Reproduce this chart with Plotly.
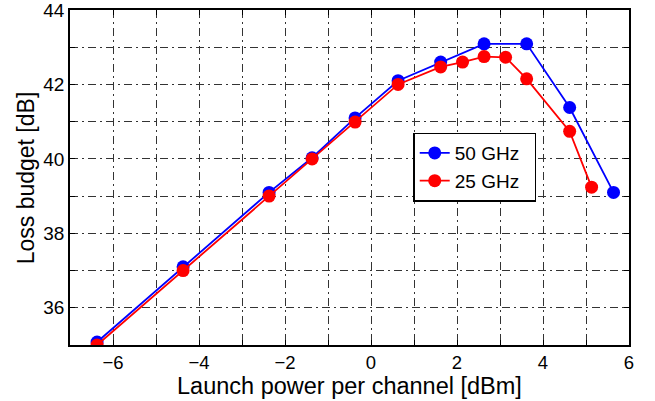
import plotly.graph_objects as go

# launch power per channel [dBm] and loss budget [dB]
x_50 = [-6.37, -4.37, -2.37, -1.37, -0.37, 0.63, 1.62, 2.63, 3.62, 4.62, 5.64]
y_50 = [35.08, 37.1, 39.1, 40.03, 41.1, 42.1, 42.6, 43.09, 43.09, 41.38, 39.1]

x_25 = [-6.37, -4.37, -2.37, -1.37, -0.37, 0.63, 1.62, 2.13, 2.63, 3.13, 3.62, 4.62, 5.13]
y_25 = [35.0, 37.0, 39.0, 40.0, 40.99, 42.0, 42.47, 42.6, 42.75, 42.73, 42.15, 40.74, 39.24]

x_ticks = list(range(-7, 7))
y_ticks = list(range(35, 45))

font = "Liberation Sans"
pad = '\u00a0\u00a0'  # a little room on the right of the legend text

fig = go.Figure()

fig.add_trace(go.Scatter(
    x=x_50, y=y_50, name='50 GHz' + pad, mode='lines+markers',
    line=dict(color='#0000ff', width=1.8),
    marker=dict(color='#0000ff', size=13)))

fig.add_trace(go.Scatter(
    x=x_25, y=y_25, name='25 GHz' + pad, mode='lines+markers',
    line=dict(color='#ff0000', width=1.8),
    marker=dict(color='#ff0000', size=13)))

grid = dict(showgrid=True, gridcolor='#333', griddash='8px,4px,2px,4px', gridwidth=1)

fig.update_layout(
    width=655, height=401,
    margin=dict(l=70, r=26, t=10, b=56),
    paper_bgcolor='white', plot_bgcolor='white',
    font=dict(family=font, size=19, color='black'),
    showlegend=True,
    legend=dict(x=0.614, y=0.634, xanchor='left', yanchor='top',
                bordercolor='black', borderwidth=1.5, bgcolor='white',
                font=dict(size=19), tracegroupgap=0, itemwidth=30),
    xaxis=dict(range=[-7, 6], tickvals=x_ticks,
               ticktext=[str(v).replace('-', '\u2212') if v % 2 == 0 else '' for v in x_ticks],
               ticks='inside', ticklen=5, tickcolor='black',
               showline=True, linecolor='black', linewidth=1.5, mirror='ticks',
               zeroline=False, automargin=False, ticklabelstandoff=0,
               ticklabeloverflow='allow', tickfont=dict(size=18.5), **grid),
    yaxis=dict(range=[35, 44], tickvals=y_ticks,
               ticktext=[str(v) if v % 2 == 0 else '' for v in y_ticks],
               ticks='inside', ticklen=5, tickcolor='black',
               showline=True, linecolor='black', linewidth=1.5, mirror='ticks',
               zeroline=False, automargin=False, ticklabelstandoff=0,
               ticklabeloverflow='allow', **grid),
)

# axis titles
fig.add_annotation(text='Launch power per channel [dBm]', xref='paper', yref='paper',
                   x=0.5, y=-0.122, xanchor='center', yanchor='middle',
                   showarrow=False, font=dict(size=23.5))
fig.add_annotation(text='Loss budget [dB]', xref='paper', yref='paper',
                   x=-0.079, y=0.5, xanchor='center', yanchor='middle', textangle=-90,
                   showarrow=False, font=dict(size=23))

# drop the page's default body margin so the figure sits at the window corner
fig.write_html("out.html", config={'displayModeBar': False},
               post_script="document.body.style.margin='0';")
